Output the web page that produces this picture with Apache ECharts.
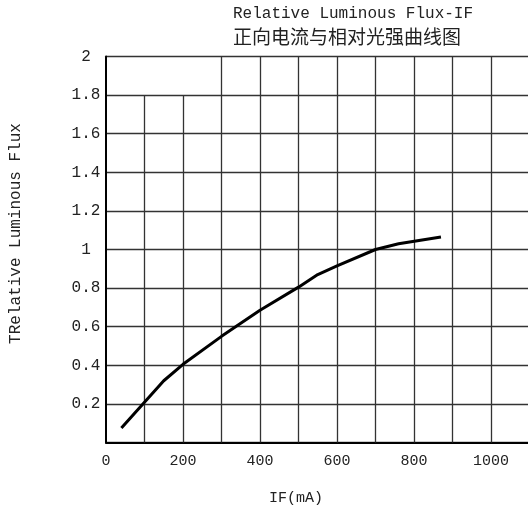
<!DOCTYPE html>
<html>
<head>
<meta charset="utf-8">
<script src="https://cdn.jsdelivr.net/npm/echarts@6/dist/echarts.min.js"></script>
<style>
html,body{margin:0;padding:0;background:#fff;}
#chart{width:528px;height:513px;}
</style>
</head>
<body>
<div id="chart"></div>
<script>
// Data
const currentMA = [40, 150, 200, 300, 400, 500, 550, 600, 700, 760, 870];
const relativeFlux = [0.075, 0.32, 0.405, 0.55, 0.685, 0.805, 0.87, 0.915, 1.0, 1.03, 1.065];
const xGridValues = [100, 200, 300, 400, 500, 600, 700, 800, 900, 1000];
const xGridTops = [1.8, 1.8, 2, 2, 2, 2, 2, 2, 2, 2];
const titleEn = 'Relative Luminous Flux-IF';
const titleZh = '正向电流与相对光强曲线图';
const xName = 'IF(mA)';
const yName = 'TRelative Luminous Flux';

const chart = echarts.init(document.getElementById('chart'), null, {renderer: 'canvas'});
const monoFont = '"Liberation Mono", "DejaVu Sans Mono", monospace';

const option = {
  backgroundColor: '#fff',
  animation: false,
  grid: {left: 106, top: 56.5, width: 423.5, height: 386, containLabel: false, outerBoundsMode: 'none'},
  xAxis: {
    type: 'value', min: 0, max: 1100, interval: 100,
    axisLine: {show: true, lineStyle: {color: '#000', width: 2}},
    axisTick: {show: false},
    splitLine: {show: false},
    axisLabel: {
      color: '#222', fontFamily: monoFont, fontSize: 15, margin: 11,
      formatter: v => (v % 200 === 0 && v <= 1000) ? String(v) : ''
    }
  },
  yAxis: {
    type: 'value', min: 0, max: 2, interval: 0.2,
    axisLine: {show: true, lineStyle: {color: '#000', width: 2}},
    axisTick: {show: false},
    splitLine: {show: true, lineStyle: {color: '#333', width: 1.3}},
    axisLabel: {
      color: '#222', fontFamily: monoFont, fontSize: 16, margin: 20, align: 'center',
      formatter: v => v === 0 ? '' : String(Math.round(v * 10) / 10)
    }
  },
  series: [{
    type: 'line',
    data: currentMA.map((x, i) => [x, relativeFlux[i]]),
    symbol: 'none',
    smooth: false,
    lineStyle: {color: '#000', width: 3},
    z: 5,
    markLine: {
      silent: true,
      symbol: 'none',
      label: {show: false},
      lineStyle: {color: '#333', width: 1.3, type: 'solid'},
      data: xGridValues.map((x, i) => [{coord: [x, 0]}, {coord: [x, xGridTops[i]]}])
    }
  }],
  graphic: [
    {type: 'text', left: 233, top: 6, style: {text: titleEn, font: '16px ' + monoFont, fill: '#222'}},
    {type: 'text', left: 233, top: 27, style: {text: titleZh, font: '19px "Noto Sans CJK SC"', fill: '#222'}},
    {type: 'text', x: 296, y: 498, style: {text: xName, font: '15px ' + monoFont, fill: '#222', align: 'center', verticalAlign: 'middle'}},
    {type: 'text', x: 16, y: 233.5, rotation: Math.PI / 2, style: {text: yName, font: '16px ' + monoFont, fill: '#222', align: 'center', verticalAlign: 'middle'}}
  ]
};
chart.setOption(option);
</script>
</body>
</html>
